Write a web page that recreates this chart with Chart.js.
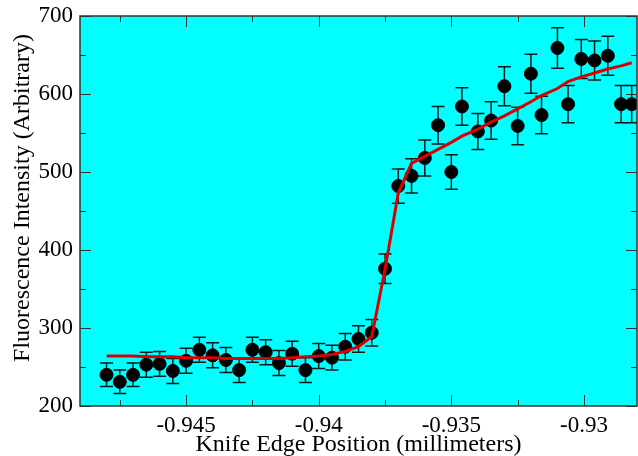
<!DOCTYPE html>
<html>
<head>
<meta charset="utf-8">
<script src="https://cdn.jsdelivr.net/npm/chart.js@4.4.1/dist/chart.umd.min.js"></script>
<style>
  html, body { margin: 0; padding: 0; background: #fff; }
  #wrap { width: 638px; height: 456px; }
</style>
</head>
<body>
<div id="wrap"><canvas id="myChart" width="638" height="456"></canvas></div>
<script>
// knife edge positions (mm)
const positions = [
    -0.9480, -0.9475, -0.9470, -0.9465, -0.9460, -0.9455, -0.9450, -0.9445, -0.9440, -0.9435,
    -0.9430, -0.9425, -0.9420, -0.9415, -0.9410, -0.9405, -0.9400, -0.9395, -0.9390, -0.9385,
    -0.9380, -0.9375, -0.9370, -0.9365, -0.9360, -0.9355, -0.9350, -0.9346, -0.9340, -0.9335,
    -0.9330, -0.9325, -0.9320, -0.9316, -0.9310, -0.9306, -0.9301, -0.9296, -0.9291, -0.9286,
    -0.9282
];
// measured intensity
const intensity = [
    240, 231, 240, 253, 254, 245, 258, 272, 265, 259,
    246, 272, 269, 255, 267, 246, 264, 262, 276, 286,
    294, 376, 482, 495, 518, 560, 500, 584, 552, 566,
    610, 559, 626, 573, 659, 587, 645, 643, 649, 587,
    587
];
// error bar half heights
const errors = [
    15, 15, 15, 16, 16, 16, 16, 16, 16, 16,
    16, 16, 16, 16, 16, 16, 16, 16, 17, 17,
    17, 19, 22, 22, 23, 24, 22, 24, 23, 24,
    25, 24, 25, 24, 26, 24, 25, 25, 25, 24,
    24
];
// fitted curve at the same positions
const fitValues = [
    264, 264, 264, 263, 263, 263, 262, 262, 262, 261,
    261, 261, 261, 261, 262, 263, 264, 266, 270, 276,
    289, 375, 473, 511, 520, 529, 538, 546, 555, 564,
    572, 581, 590, 598, 607, 616, 622, 627, 632, 636,
    640
];
const xMin = -0.949, xMax = -0.928;
const yMin = 200, yMax = 700;
const yTitle = 'Fluorescence Intensity (Arbitrary)';

const FONT = "'Liberation Serif', 'DejaVu Serif', serif";

const isMajor = (v, step) => Math.abs(v / step - Math.round(v / step)) < 1e-6;

const frame = {
    id: 'frame',
    beforeDraw(chart) {
        const { ctx, chartArea: a } = chart;
        ctx.save();
        ctx.fillStyle = '#00ffff';
        ctx.fillRect(a.left, a.top, a.right - a.left, a.bottom - a.top);
        ctx.restore();
    },
    beforeDatasetsDraw(chart) {
        // error bars
        const { ctx, chartArea: a, scales } = chart;
        ctx.save();
        ctx.beginPath();
        ctx.rect(a.left, a.top, a.right - a.left, a.bottom - a.top);
        ctx.clip();
        ctx.strokeStyle = '#0a1a1a';
        ctx.lineWidth = 1.5;
        positions.forEach((p, i) => {
            const x = scales.x.getPixelForValue(p);
            const y1 = scales.y.getPixelForValue(intensity[i] + errors[i]);
            const y2 = scales.y.getPixelForValue(intensity[i] - errors[i]);
            ctx.beginPath();
            ctx.moveTo(x, y1); ctx.lineTo(x, y2);
            ctx.moveTo(x - 6.5, y1); ctx.lineTo(x + 6.5, y1);
            ctx.moveTo(x - 6.5, y2); ctx.lineTo(x + 6.5, y2);
            ctx.stroke();
        });
        ctx.restore();
    },
    afterDraw(chart) {
        const { ctx, chartArea: a, scales } = chart;
        ctx.save();
        ctx.strokeStyle = '#333';
        ctx.lineWidth = 1;
        // inward ticks on all four sides
        scales.x.ticks.forEach(t => {
            const x = Math.round(scales.x.getPixelForValue(t.value)) + 0.5;
            const len = isMajor(t.value, 0.005) ? 11 : 6;
            ctx.beginPath();
            ctx.moveTo(x, a.bottom); ctx.lineTo(x, a.bottom - len);
            ctx.moveTo(x, a.top); ctx.lineTo(x, a.top + len);
            ctx.stroke();
        });
        scales.y.ticks.forEach(t => {
            const y = Math.round(scales.y.getPixelForValue(t.value)) + 0.5;
            const len = isMajor(t.value, 100) ? 11 : 6;
            ctx.beginPath();
            ctx.moveTo(a.left, y); ctx.lineTo(a.left + len, y);
            ctx.moveTo(a.right, y); ctx.lineTo(a.right - len, y);
            ctx.stroke();
        });
        ctx.lineWidth = 1.5;
        ctx.strokeStyle = '#333';
        ctx.strokeRect(a.left, a.top, a.right - a.left, a.bottom - a.top);

        // y axis title, sits a little above the axis centre like the original
        ctx.translate(23, 198);
        ctx.rotate(-Math.PI / 2);
        ctx.fillStyle = '#000';
        ctx.font = '24px ' + FONT;
        ctx.textAlign = 'center';
        ctx.textBaseline = 'middle';
        ctx.fillText(yTitle, 0, 0);
        ctx.restore();
    }
};

const initChart = () => {
    const ctx = document.getElementById('myChart').getContext('2d');
    new Chart(ctx, {
        type: 'scatter',
        data: {
            datasets: [
                {
                    label: 'fit',
                    type: 'line',
                    data: positions.map((p, i) => ({ x: p, y: fitValues[i] })),
                    borderColor: '#dd0000',
                    borderWidth: 3,
                    pointRadius: 0,
                    tension: 0,
                    fill: false,
                    order: 0
                },
                {
                    label: 'data',
                    data: positions.map((p, i) => ({ x: p, y: intensity[i] })),
                    backgroundColor: '#000',
                    borderColor: '#000',
                    pointRadius: 6.5,
                    pointHoverRadius: 6.5,
                    order: 1
                }
            ]
        },
        options: {
            responsive: false,
            animation: false,
            layout: { autoPadding: false, padding: { top: 16, right: 1, left: 0, bottom: 0 } },
            plugins: { legend: { display: false }, tooltip: { enabled: false } },
            scales: {
                x: {
                    type: 'linear',
                    min: xMin,
                    max: xMax,
                    afterBuildTicks: scale => {
                        const ticks = [];
                        for (let k = -379; k <= -372; k++) ticks.push({ value: k * 0.0025 });
                        scale.ticks = ticks;
                    },
                    afterFit: scale => {
                        scale.height = 50;
                        scale.paddingLeft = 0;
                        scale.paddingRight = 0;
                    },
                    grid: { display: false, drawTicks: false },
                    border: { display: false },
                    ticks: {
                        autoSkip: false,
                        maxRotation: 0,
                        padding: 6,
                        color: '#000',
                        font: { family: FONT, size: 23 },
                        callback: v => isMajor(v, 0.005) ? String(parseFloat(v.toFixed(4))) : ''
                    },
                    title: {
                        display: true,
                        text: 'Knife Edge Position (millimeters)',
                        color: '#000',
                        font: { family: FONT, size: 24 },
                        padding: { top: 0, bottom: -3 }
                    }
                },
                y: {
                    min: yMin,
                    max: yMax,
                    afterFit: scale => {
                        scale.width = 80;
                        scale.paddingTop = 0;
                        scale.paddingBottom = 0;
                    },
                    grid: { display: false, drawTicks: false },
                    border: { display: false },
                    ticks: {
                        stepSize: 50,
                        autoSkip: false,
                        padding: 7,
                        color: '#000',
                        font: { family: FONT, size: 23 },
                        callback: v => v % 100 === 0 ? String(v) : ''
                    }
                }
            }
        },
        plugins: [frame]
    });
};

document.addEventListener('DOMContentLoaded', initChart);
</script>
</body>
</html>
